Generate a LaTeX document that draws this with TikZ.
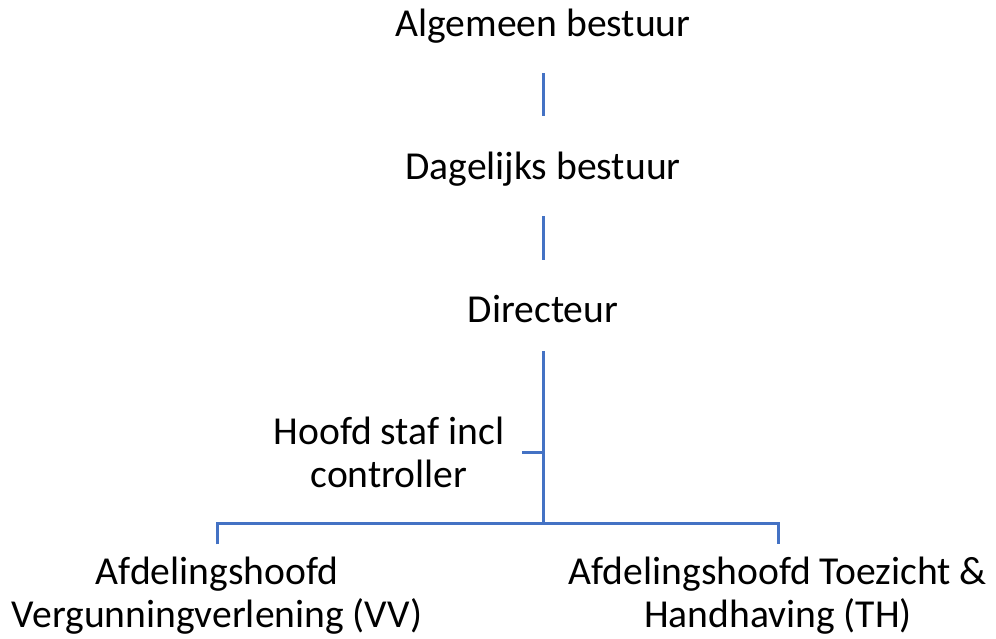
\documentclass[tikz,border=0pt]{standalone}
\usepackage{fontspec}
\setmainfont{Carlito}
\usepackage{tikz}
\usetikzlibrary{calc}
\definecolor{lineblue}{RGB}{68,114,196}

\begin{document}
\begin{tikzpicture}[x=1pt,y=-1pt,
	every node/.style={anchor=base,inner sep=0pt,align=center,font=\fontsize{39.6}{43}\selectfont},
	link/.style={draw=lineblue,line width=3pt,shorten <=30pt,shorten >=35pt},
	bar/.style={draw=lineblue,line width=3pt}]

\useasboundingbox (0,0) rectangle (996,638);

\node (algemeen) at (543,36) {Algemeen bestuur};
\node (dagelijks) at (543,179) {Dagelijks bestuur};
\node (directeur) at (543,322) {Directeur};
% multi-line nodes sit on their last baseline
\node (hoofd) at (389,487) {Hoofd staf incl\\controller};
\node (vv) at (217,627) {Afdelingshoofd\\Vergunningverlening (VV)};
\node (th) at (778,627) {Afdelingshoofd Toezicht \&\\Handhaving (TH)};

\coordinate (split) at (543,523);
\coordinate (staftap) at (543,452);

\draw[link] (algemeen) -- (dagelijks);
\draw[link] (dagelijks) -- (directeur);
\draw[bar,shorten <=29pt] (directeur) -- (split);
\draw[bar,shorten >=18pt] (staftap) -- (hoofd.east |- staftap);
\draw[bar,shorten <=12pt,shorten >=12pt] (vv) |- (split) -| (th);

\end{tikzpicture}
\end{document}
